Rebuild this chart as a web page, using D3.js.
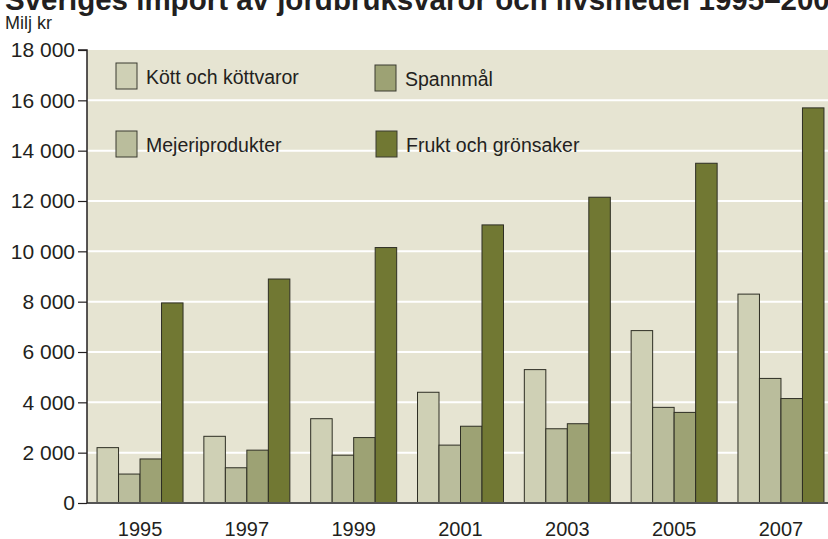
<!DOCTYPE html>
<html><head><meta charset="utf-8">
<script src="https://cdn.jsdelivr.net/npm/d3@7"></script>
<style>body{margin:0;background:#fff}svg{display:block}</style>
</head><body>
<svg id="c" width="828" height="539"></svg>
<script>
const title = "Sveriges import av jordbruksvaror och livsmedel 1995–2007";
const unitLabel = "Milj kr";
const years = ["1995","1997","1999","2001","2003","2005","2007"];
const seriesNames = ["Kött och köttvaror","Mejeriprodukter","Spannmål","Frukt och grönsaker"];
const kott = [2200, 2650, 3350, 4400, 5300, 6850, 8300];
const mejeri = [1150, 1400, 1900, 2300, 2950, 3800, 4950];
const spannmal = [1750, 2100, 2600, 3050, 3150, 3600, 4150];
const frukt = [7950, 8900, 10150, 11050, 12150, 13500, 15700];
const yTicks = [0,2000,4000,6000,8000,10000,12000,14000,16000,18000];
const colors = ["#cfd0b5","#babd9c","#9da274","#717833"];

(function(){
const seriesValues = [kott, mejeri, spannmal, frukt];
const svg = d3.select("#c");
const pL = 87, pR = 828, pT = 50, pB = 503;
const font = "'Liberation Sans', Arial, sans-serif";
const textCol = "#231f20";

const y = d3.scaleLinear().domain([0,18000]).range([pB, pT]);
const x0 = d3.scaleBand().domain(years).range([87, 834]).paddingInner(0.195).paddingOuter(0.094);
const x1 = d3.scaleBand().domain(d3.range(4)).range([0, x0.bandwidth()]);

svg.append("text").attr("x", 5).attr("y", 9.5).text(title)
  .attr("font-family", font).attr("font-weight", "bold").attr("font-size", 29.5).attr("fill", textCol);
svg.append("text").attr("x", 5).attr("y", 29).text(unitLabel)
  .attr("font-family", font).attr("font-size", 18).attr("fill", textCol);

svg.append("rect").attr("x", pL).attr("y", pT).attr("width", pR-pL).attr("height", pB-pT).attr("fill", "#e6e4d2");

svg.append("g").selectAll("line").data(yTicks.filter(t => t>0 && t<18000)).join("line")
  .attr("x1", pL).attr("x2", pR).attr("y1", d=>y(d)).attr("y2", d=>y(d))
  .attr("stroke", "#fff").attr("stroke-width", 2);

const legendItems = [
  {name: seriesNames[0], c: colors[0], x: 116, y: 63},
  {name: seriesNames[2], c: colors[2], x: 375, y: 65},
  {name: seriesNames[1], c: colors[1], x: 116, y: 131},
  {name: seriesNames[3], c: colors[3], x: 376, y: 131}
];
const lg = svg.append("g");
legendItems.forEach(d => {
  lg.append("rect").attr("x", d.x).attr("y", d.y).attr("width", 21).attr("height", 26)
    .attr("fill", d.c).attr("stroke", "#3a3a30").attr("stroke-width", 1);
  lg.append("text").attr("x", d.x + 30).attr("y", d.y + 21).text(d.name)
    .attr("font-family", font).attr("font-size", 19.5).attr("fill", textCol);
});

const g = svg.append("g");
years.forEach((yr, i) => {
  seriesValues.forEach((vals, s) => {
    g.append("rect")
      .attr("x", x0(yr) + x1(s)).attr("width", x1.bandwidth())
      .attr("y", y(vals[i])).attr("height", y(0) - y(vals[i]))
      .attr("fill", colors[s]).attr("stroke", "#2e2e24").attr("stroke-width", 1);
  });
});

svg.append("line").attr("x1", pL).attr("x2", pR).attr("y1", pB).attr("y2", pB)
  .attr("stroke", "#555").attr("stroke-width", 2);

const yAxis = d3.axisLeft(y).tickValues(yTicks).tickSize(9).tickPadding(3)
  .tickFormat(d => d3.format(",")(d).replace(/,/g, " "));
const ya = svg.append("g").attr("transform", `translate(${pL},0)`).call(yAxis);
ya.select(".domain").attr("stroke", "#231f20").attr("stroke-width", 1.5).attr("d", `M-9,${pT}H0V${pB}`);
ya.selectAll(".tick line").attr("stroke", "#231f20").attr("stroke-width", 1.2);
ya.selectAll("text").attr("font-family", font).attr("font-size", 21).attr("fill", textCol);

const xAxis = d3.axisBottom(x0).tickSize(0).tickPadding(19);
const xa = svg.append("g").attr("transform", `translate(0,${pB})`).call(xAxis);
xa.select(".domain").remove();
xa.selectAll("text").attr("font-family", font).attr("font-size", 20).attr("fill", textCol);
})();
</script>
</body></html>
